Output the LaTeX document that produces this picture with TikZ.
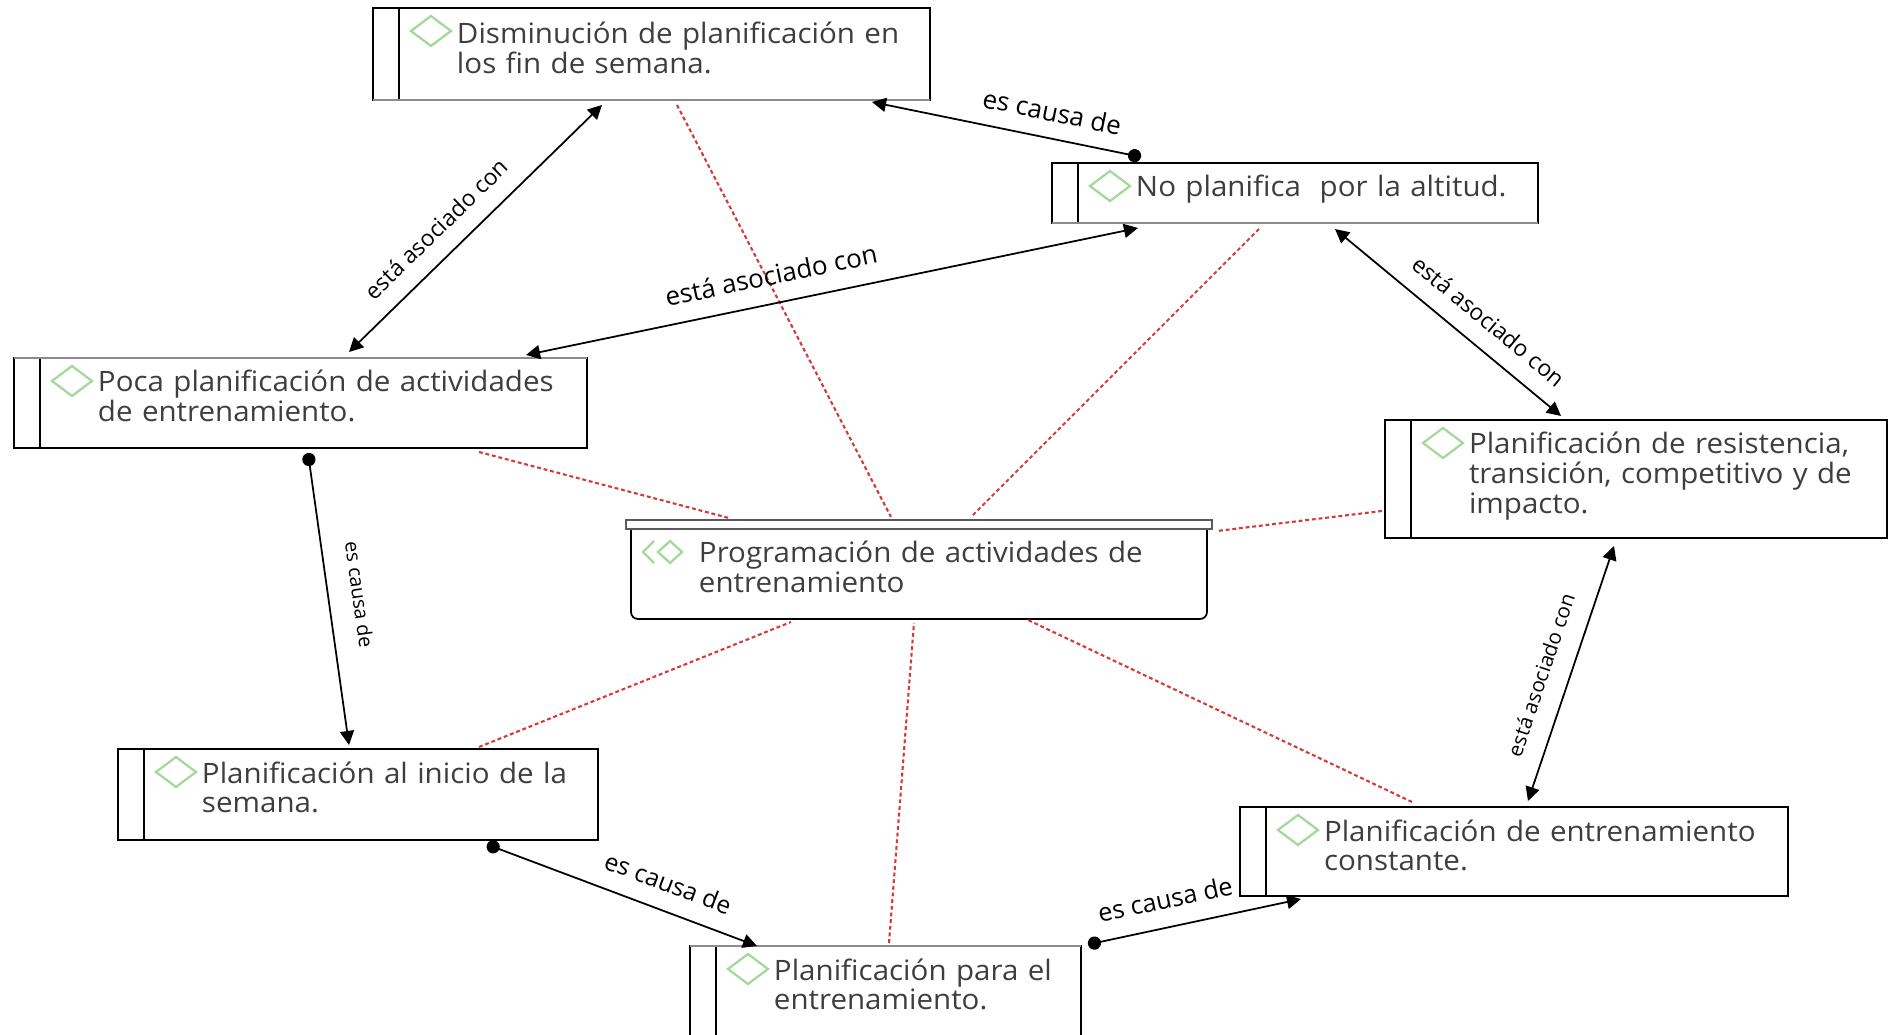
\documentclass[tikz,border=0pt]{standalone}
\usepackage{fontspec}
\setmainfont{Open Sans}
\newfontfamily\boxfont[FakeStretch=1.05]{Open Sans}
\usetikzlibrary{arrows.meta,positioning}
\definecolor{marker}{HTML}{A6D79C}
\definecolor{boxtext}{HTML}{3E3E3E}
\definecolor{linkred}{HTML}{D43A3A}
\tikzset{
    %Define standard arrow tip
    >={Triangle[length=8pt,width=8pt]},
    %Define style for boxes
    box/.style={
           rectangle,
           draw=black, line width=1pt,
           inner sep=0pt, outer sep=0pt,
           text=boxtext,
           font=\boxfont\fontsize{16}{17}\selectfont,
           align=left,
           text height=.68cm,
           execute at begin node={\leftskip=1.68cm},
           path picture={
              \draw[line width=1pt] ([xshift=.52cm]path picture bounding box.north west)
                   -- ([xshift=.52cm]path picture bounding box.south west);
              \draw[marker, line width=1.3pt] ([shift={(.76,-.46)}]path picture bounding box.north west)
                   -- ++(.4,.3) -- ++(.4,-.3) -- ++(-.4,-.3) -- cycle;
           }},
    %Define style for the central box
    mainbox/.style={
           rectangle,
           rounded corners=.14cm,
           draw=black, line width=1pt,
           inner sep=0pt, outer sep=0pt,
           text=boxtext,
           font=\boxfont\fontsize{16}{17}\selectfont,
           align=left,
           text height=.78cm,
           execute at begin node={\leftskip=1.36cm},
           path picture={
              \draw[marker, line width=1.3pt, sharp corners] ([shift={(.46,-.34)}]path picture bounding box.north west)
                   -- ++(-.22,-.22) -- ++(.22,-.22);
              \draw[marker, line width=1.3pt, sharp corners] ([shift={(.54,-.56)}]path picture bounding box.north west)
                   -- ++(.24,.22) -- ++(.24,-.22) -- ++(-.24,-.22) -- cycle;
           }},
    capbar/.style={
           rectangle,
           draw=black!65, line width=1pt,
           fill=white,
           inner sep=0pt, outer sep=0pt,
           minimum width=11.72cm,
           minimum height=.18cm},
    % Define arrow style
    both/.style={
           <->,
           line width=1pt},
    cause/.style={
           {Circle[length=7.5pt]}->,
           line width=1pt},
    assoc/.style={
           linkred,
           line width=1.2pt,
           dash pattern=on 2.2pt off 1.6pt},
    rim/.style={
           black!45,
           line width=1.6pt},
    rel/.style={
           sloped,
           above,
           inner sep=10pt,
           font=\fontsize{#1}{15}\selectfont},
    rel/.default=13
}
\begin{document}
\begin{tikzpicture}
 %nodes
    \node[mainbox, text width=11.52cm, text depth=1.12cm] (prog) {Programación de actividades de\\entrenamiento};
    \path[use as bounding box] ([shift={(-12.62,10.48)}]prog.north west) rectangle ++(37.78,-20.7);
    \node[capbar, above=-.1cm of prog] (progbar) {};
    \node[box, text width=11.14cm, text height=.72cm, text depth=1.12cm, above left=8.48cm and -5.98cm of prog] (fin) {Disminución de planificación en\\los fin de semana.};
    \node[box, text width=9.72cm, text depth=.52cm, above right=6.02cm and -3.1cm of prog] (altitud) {No planifica~~por la altitud.};
    \node[box, text width=11.46cm, text depth=1.12cm, above left=1.52cm and .88cm of prog] (poca) {Poca planificación de actividades\\de entrenamiento.};
    \node[box, text width=10.04cm, text depth=1.68cm, above right=-.28cm and 3.56cm of prog] (resist) {Planificación de resistencia,\\transición, competitivo y de\\impacto.};
    \node[box, text width=9.6cm, text depth=1.14cm, below left=2.6cm and .66cm of prog] (inicio) {Planificación al inicio de la\\semana.};
    \node[box, text width=10.96cm, text depth=1.1cm, below right=3.76cm and .66cm of prog] (constante) {Planificación de entrenamiento\\constante.};
    \node[box, text width=7.82cm, text depth=1.5cm, below left=6.54cm and -9cm of prog] (para) {Planificación para el\\entrenamiento.};
 %edges
    \draw[rim] (fin.south west) -- (fin.south east);
    \draw[rim] (altitud.south west) -- (altitud.south east);
    \draw[rim] (poca.north west) -- (poca.north east);
    \draw[rim] (para.north west) -- (para.north east);
    \draw[assoc] ([shift={(.51,-.10)}]fin.south) to ([shift={(-.56,.14)}]prog.north);
    \draw[assoc] ([shift={(-.72,-.12)}]altitud.south) to ([shift={(1.04,.14)}]prog.north);
    \draw[assoc] ([shift={(3.57,-.08)}]poca.south) to ([shift={(-3.8,.12)}]prog.north);
    \draw[assoc] ([shift={(-.06,-.64)}]resist.west) to ([shift={(.2,-.14)}]prog.north east);
    \draw[assoc] ([shift={(2.42,.04)}]inicio.north) to ([shift={(-2.56,-.06)}]prog.south);
    \draw[assoc] ([shift={(.07,.06)}]para.north) to ([shift={(-.1,-.08)}]prog.south);
    \draw[assoc] ([shift={(-2.04,.10)}]constante.north) to ([shift={(2.18,-.02)}]prog.south);
    \draw[both] ([shift={(.97,.12)}]poca.north) to node[rel, pos=.42] {está asociado con} ([shift={(-.99,-.10)}]fin.south);
    \draw[cause] ([shift={(-3.08,.12)}]altitud.north) to node[rel=14.8, inner sep=9pt, pos=.35] {es causa de} ([shift={(4.41,-.04)}]fin.south);
    \draw[both] ([shift={(-3.14,-.10)}]altitud.south) to node[rel=14.8, pos=.59] {está asociado con} ([shift={(4.51,.06)}]poca.north);
    \draw[both] ([shift={(.80,-.12)}]altitud.south) to node[rel, pos=.605] {está asociado con} ([shift={(-1.5,.08)}]resist.north);
    \draw[both] ([shift={(-.44,-.16)}]resist.south) to node[rel=11.7, inner sep=11pt, pos=.54] {está asociado con} ([shift={(.28,.12)}]constante.north);
    \draw[cause] ([shift={(.14,.03)}]para.north east) to node[rel=14.4, pos=.39] {es causa de} ([shift={(-4.26,-.06)}]constante.south);
    \draw[cause] ([shift={(2.58,-.09)}]inicio.south) to node[rel=14, pos=.635] {es causa de} ([shift={(-2.57,0)}]para.north);
    \draw[cause] ([shift={(.15,-.10)}]poca.south) to node[rel=11.2, inner sep=13pt] {es causa de} ([shift={(-.18,.08)}]inicio.north);
  \end{tikzpicture}
\end{document}
